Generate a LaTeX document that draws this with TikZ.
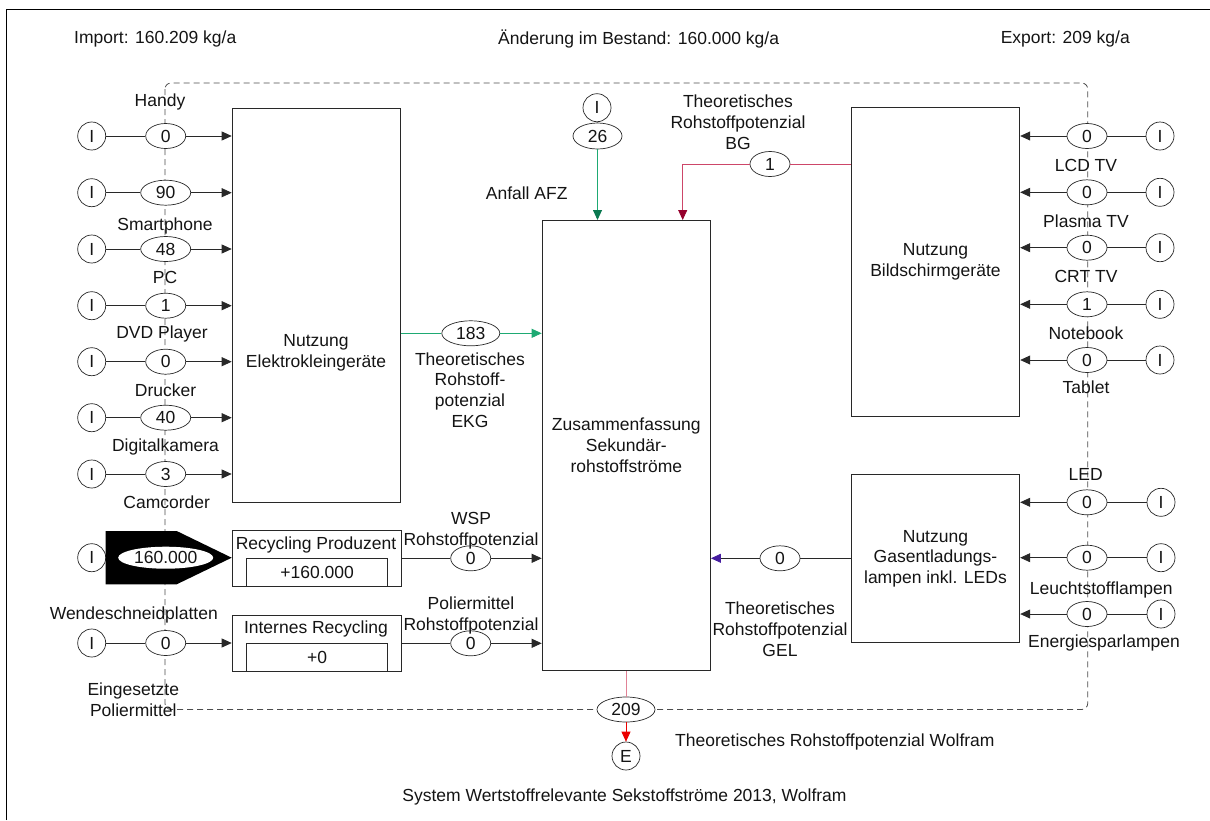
\documentclass[tikz,border=0pt]{standalone}
\usepackage{fontspec}
\setmainfont{Liberation Sans}
\usetikzlibrary{arrows.meta,shapes.geometric,calc}
\definecolor{edge}{RGB}{40,40,40}
\definecolor{flowgreen}{RGB}{30,170,115}
\definecolor{headgreen}{RGB}{10,120,80}
\definecolor{flowred}{RGB}{205,70,105}
\definecolor{headred}{RGB}{150,0,45}
\definecolor{headblue}{RGB}{70,30,160}
\definecolor{outred}{RGB}{225,130,150}
\definecolor{exportred}{RGB}{235,0,0}

\begin{document}
\begin{tikzpicture}[x=1pt,y=-1pt,
  every node/.style={font=\fontsize{17.5}{20.8}\selectfont, text=black!92, inner sep=0pt},
  txt/.style={align=center},
  proc/.style={draw=edge, line width=0.9pt, align=center},
  val/.style={ellipse, draw=edge, line width=0.7pt, fill=white, minimum width=40, minimum height=25},
  src/.style={circle, draw=edge, line width=0.7pt, fill=white, minimum size=28},
  flow/.style={draw=edge, line width=0.8pt},
  tip/.style={-{Triangle[length=10pt,width=9pt]}},
  boundary/.style={draw=black!70, line width=0.8pt, dash pattern=on 6pt off 4pt, rounded corners=6pt},
]
\useasboundingbox (0,0) rectangle (1210,820);

% frame
\draw[line width=1pt, black] (6,820) -- (6,9) -- (1210,9);

% balance figures
\node[anchor=west] (imp) at (74,39) {Import: 160.209 kg/a};
\node[anchor=west] (best) at (498,39) {Änderung im Bestand: 160.000 kg/a};
\node[anchor=east] (exp) at (1130,39) {Export: 209 kg/a};

% system boundary
\draw[boundary] (165,83) rectangle (1087.7,709.5);

% processes
\node[proc, anchor=north west, minimum width=168.3, minimum height=394] (ekg) at (231.7,108) {};
\node[txt] (ekglbl) at (316,353) {Nutzung\\Elektrokleingeräte};
\node[proc, anchor=north west, minimum width=168.3, minimum height=450] (zus) at (541.7,220)
  {Zusammenfassung\\Sekundär-\\rohstoffströme};
\node[proc, anchor=north west, minimum width=168.6, minimum height=309] (bild) at (850.7,107)
  {Nutzung\\Bildschirmgeräte};
\node[proc, anchor=north west, minimum width=168.6, minimum height=168.3] (gas) at (850.7,474)
  {Nutzung\\Gasentladungs-\\lampen inkl. LEDs};

\node[proc, anchor=north west, minimum width=169, minimum height=56] (recp) at (231.7,530) {};
\node[proc, anchor=north west, minimum width=141.3, minimum height=27.7] (recpst) at (246,558.3) {+160.000};
\node (recplbl) at (316,545) {Recycling Produzent};
\node[proc, anchor=north west, minimum width=169, minimum height=55.7] (intr) at (231.7,615) {};
\node[proc, anchor=north west, minimum width=141.3, minimum height=28] (intrst) at (246,642.7) {+0};
\node (intrlbl) at (316,629.3) {Internes Recycling};

% small devices (left inputs)
\foreach \y/\v/\w/\n in {136/0/40/a, 192.7/90/50/b, 249/48/50/c, 305.7/1/40/d,
                         361.7/0/40/e, 417.7/40/50/f, 474/3/40/g} {
  \node[src] (in\n) at (91.7,\y) {I};
  \node[val, minimum width=\w] (v\n) at (165.7,\y) {\v};
  \draw[flow] (in\n) -- (v\n);
  \draw[flow,tip] (v\n) -- (v\n -| ekg.west);
}
\node (lhandy) at (160,102) {Handy};
\node (lsmart) at (165,226) {Smartphone};
\node (lpc) at (165,277) {PC};
\node (ldvd) at (162,334) {DVD Player};
\node (ldruck) at (165.6,390) {Drucker};
\node (ldigi) at (165.5,446.7) {Digitalkamera};
\node (lcam) at (166.7,502.7) {Camcorder};

% producer recycling input
\node[src] (in160) at (91.7,557.7) {I};
\coordinate (bkl) at (105.7,531);
\coordinate (bkt) at (recp.west |- in160);
\fill[black] (bkl) -- (176.7,531) -- (bkt) -- (176.7,584.3) -- (105.7,584.3) -- cycle;
\node[ellipse, fill=white, minimum width=95, minimum height=22] (v160) at (165.7,557.7) {160.000};

% inserts
\node[src] (inwsp) at (91.7,643) {I};
\node[val] (vwsp) at (165.7,643) {0};
\draw[flow] (inwsp) -- (vwsp);
\draw[flow,tip] (vwsp) -- (vwsp -| intr.west);
\node (lwende) at (133.8,615) {Wendeschneidplatten};
\node[txt] (lpolin) at (133.3,700) {Eingesetzte\\Poliermittel};

% screens (right inputs)
\foreach \y/\n in {136/a, 192.3/b, 247.7/c, 304.3/d, 360/e} {
  \node[src] (bin\n) at (1160,\y) {I};
}
\node[val] (bva) at (1087,136) {0};
\node[val] (bvb) at (1087,192.3) {0};
\node[val] (bvc) at (1087,247.7) {0};
\node[val] (bvd) at (1087,304.3) {1};
\node[val] (bve) at (1087,360) {0};
\foreach \n in {a,b,c,d,e} {
  \draw[flow] (bin\n) -- (bv\n);
  \draw[flow,tip] (bv\n) -- (bv\n -| bild.east);
}
\node (llcd) at (1086,165) {LCD TV};
\node (lplasma) at (1086,221) {Plasma TV};
\node (lcrt) at (1086,276.7) {CRT TV};
\node (lnote) at (1086,333.3) {Notebook};
\node (ltab) at (1086,387) {Tablet};

% lamps (right inputs)
\foreach \y/\n in {502.3/a, 557.7/b, 614/c} {
  \node[src] (gin\n) at (1161,\y) {I};
  \node[val] (gv\n) at (1087,\y) {0};
  \draw[flow] (gin\n) -- (gv\n);
  \draw[flow,tip] (gv\n) -- (gv\n -| gas.east);
}
\node (lled) at (1085.7,474) {LED};
\node (lleucht) at (1101.3,590) {Leuchtstofflampen};
\node (lenergie) at (1104,642.7) {Energiesparlampen};

% AFZ
\node[src] (inafz) at (597,107.7) {I};
\node[val, minimum width=49, minimum height=26] (v26) at (597.5,136) {26};
\draw[flow] (inafz) -- (v26);
\draw[flowgreen, line width=0.9pt, -{Triangle[length=10pt,width=9pt,color=headgreen]}]
  (v26) -- (v26 |- zus.north);
\node (lafz) at (526.7,193.3) {Anfall AFZ};

% screens -> summary
\node[val] (vbg) at (770,164) {1};
\coordinate (bgturn) at (682.7,164);
\draw[flowred, line width=0.8pt] (vbg -| bild.west) -- (vbg);
\draw[flowred, line width=0.8pt, -{Triangle[length=10pt,width=9pt,color=headred]}]
  (vbg) -- (bgturn) -- (bgturn |- zus.north);
\node[txt] (lbg) at (738,122.5) {Theoretisches\\Rohstoffpotenzial\\BG};

% small devices -> summary
\node[val, minimum width=58] (v183) at (470.8,333.3) {183};
\draw[flowgreen, line width=0.9pt] (v183 -| ekg.east) -- (v183);
\draw[flowgreen, line width=0.9pt, -{Triangle[length=10pt,width=9pt]}] (v183) -- (v183 -| zus.west);
\node[txt] (lekg) at (470,390) {Theoretisches\\Rohstoff-\\potenzial\\EKG};

% recycling -> summary
\node[val] (vrp) at (470.7,558.3) {0};
\draw[flow] (vrp -| recp.east) -- (vrp);
\draw[flow,tip] (vrp) -- (vrp -| zus.west);
\node[txt] (lwsp) at (471,530.5) {WSP\\Rohstoffpotenzial};

\node[val] (vpm) at (470.7,643.3) {0};
\draw[flow] (vpm -| intr.east) -- (vpm);
\draw[flow,tip] (vpm) -- (vpm -| zus.west);
\node[txt] (lpm) at (471,615.5) {Poliermittel\\Rohstoffpotenzial};

% lamps -> summary
\node[val] (vgel) at (780,558.3) {0};
\draw[flow] (vgel -| gas.west) -- (vgel);
\draw[edge, line width=0.8pt, -{Triangle[length=10pt,width=9pt,color=headblue]}] (vgel) -- (vgel -| zus.east);
\node[txt] (lgel) at (780,629.5) {Theoretisches\\Rohstoffpotenzial\\GEL};

% export
\node[val, minimum width=58] (v209) at (626,709.5) {209};
\node[src] (eout) at (626,756) {E};
\draw[outred, line width=0.8pt] (v209 |- zus.south) -- (v209);
\draw[exportred, line width=0.8pt, -{Triangle[length=10pt,width=9pt]}] (v209) -- (eout);
\node[anchor=west] (lwolf) at (675,741.7) {Theoretisches Rohstoffpotenzial Wolfram};

\node[anchor=east] (title) at (846.7,796.7) {System Wertstoffrelevante Sekstoffströme 2013, Wolfram};
\end{tikzpicture}
\end{document}
